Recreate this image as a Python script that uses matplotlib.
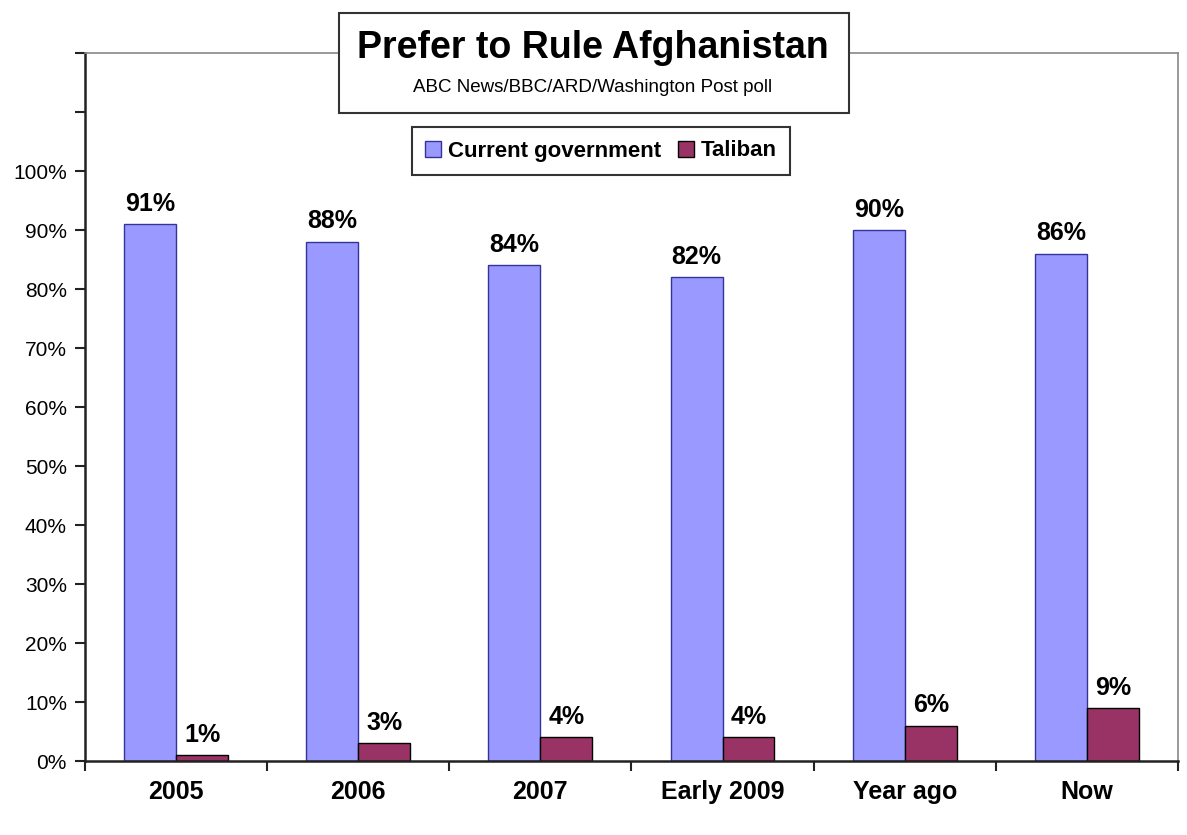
import matplotlib.pyplot as plt
from matplotlib.patches import Rectangle
from matplotlib.ticker import FixedLocator, PercentFormatter
import numpy as np

plt.rcParams['font.family'] = ['Liberation Sans', 'DejaVu Sans']

# poll results
categories = ['2005', '2006', '2007', 'Early 2009', 'Year ago', 'Now']
current_gov = [91, 88, 84, 82, 90, 86]
taliban = [1, 3, 4, 4, 6, 9]
y_ticks = [0, 10, 20, 30, 40, 50, 60, 70, 80, 90, 100]

blue = '#9999FF'
maroon = '#993366'

fig = plt.figure(figsize=(11.87, 8.35), dpi=100)
ax = fig.add_axes([0.0716, 0.0886, 0.9208, 0.8479])

x = np.arange(len(categories))
w = 0.285
b1 = ax.bar(x - w / 2, current_gov, w, color=blue, edgecolor='#333399', linewidth=1, label='Current government')
b2 = ax.bar(x + w / 2, taliban, w, color=maroon, edgecolor='black', linewidth=1, label='Taliban')

for bars, vals in ((b1, current_gov), (b2, taliban)):
    for r, v in zip(bars, vals):
        ax.annotate(f'{v}%', (r.get_x() + r.get_width() / 2, v), xytext=(0, 6),
                    textcoords='offset points', ha='center', va='bottom',
                    fontsize=18, fontweight='bold')

ax.set_xlim(-0.5, len(categories) - 0.5)
ax.set_ylim(0, 120)

# labels at centres, ticks at group boundaries
ax.set_xticks(x)
ax.set_xticklabels(categories, fontsize=18, fontweight='bold')
ax.tick_params(axis='x', which='major', length=0, pad=14)
ax.xaxis.set_minor_locator(FixedLocator(np.arange(-0.5, len(categories), 1)))
ax.tick_params(axis='x', which='minor', length=7, width=1.5, direction='out', color='#222222')

ax.yaxis.set_major_locator(FixedLocator(y_ticks))
ax.yaxis.set_major_formatter(PercentFormatter(decimals=0))
ax.yaxis.set_minor_locator(FixedLocator([110, 120]))
ax.tick_params(axis='y', which='both', length=7, width=1.5, direction='out', color='#222222',
               labelsize=15, pad=6)

for s in ('left', 'bottom'):
    ax.spines[s].set_color('#222222')
    ax.spines[s].set_linewidth(1.8)
for s in ('top', 'right'):
    ax.spines[s].set_color('#888888')
    ax.spines[s].set_linewidth(1.2)

# title box
fig.patches.append(Rectangle((339 / 1187, 1 - 113 / 835), 510 / 1187, 100 / 835,
                             transform=fig.transFigure, facecolor='white',
                             edgecolor='#333333', linewidth=1.5, zorder=5))
fig.text(593 / 1187, 1 - 48 / 835, 'Prefer to Rule Afghanistan', ha='center', va='center',
         fontsize=27, fontweight='bold', zorder=6)
fig.text(593 / 1187, 1 - 88 / 835, 'ABC News/BBC/ARD/Washington Post poll', ha='center',
         va='center', fontsize=13.5, zorder=6)

leg = fig.legend(handles=[b1, b2], loc='center', bbox_to_anchor=(601 / 1187, 1 - 151 / 835),
                 ncol=2, frameon=True, fancybox=False, edgecolor='#333333',
                 prop={'size': 16, 'weight': 'bold'}, handlelength=0.7, handleheight=0.7,
                 handletextpad=0.3, columnspacing=0.8, borderpad=0.6, borderaxespad=0,
                 framealpha=1)
leg.get_frame().set_linewidth(1.5)
leg._legend_box.sep = 0
leg.borderpad = 0.55

fig.savefig('out.png', dpi=100)
